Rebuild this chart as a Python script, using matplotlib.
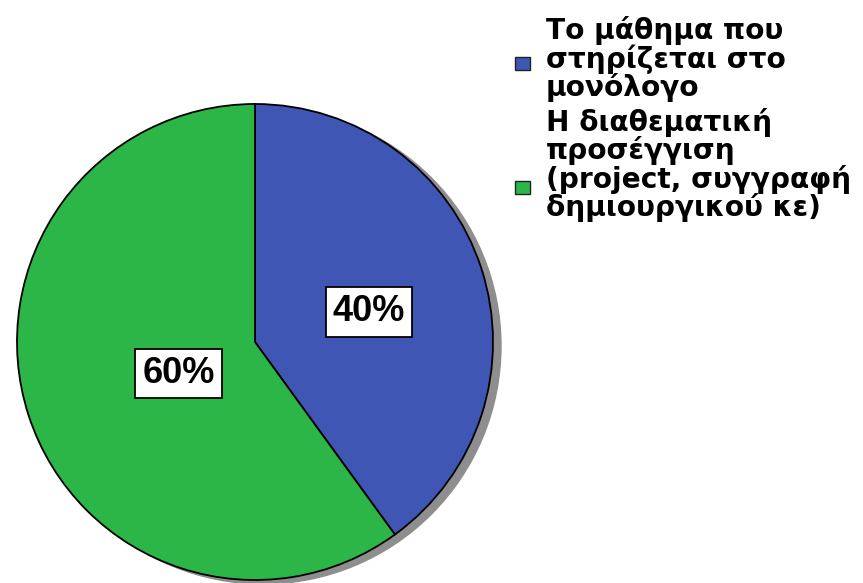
import matplotlib.pyplot as plt
import numpy as np
from matplotlib.patches import Circle, Rectangle

# answers in percent
labels = ["Το μάθημα που\nστηρίζεται στο\nμονόλογο",
          "Η διαθεματική\nπροσέγγιση\n(project, συγγραφή\nδημιουργικού κε)"]
values = [40, 60]
colors = ["#3f56b4", "#2db648"]

W, H = 863, 583
fig = plt.figure(figsize=(W / 100, H / 100), dpi=100)
ax = fig.add_axes([0, 0, 1, 1])

cx, cy, r = 255, H - 342, 238

# grey drop shadow behind the pie
ax.add_patch(Circle((cx + 8, cy - 4), r, color="#8e8e8e", zorder=1))

wedges, _ = ax.pie(values, colors=colors, startangle=90, counterclock=False,
                   center=(cx, cy), radius=r, frame=True,
                   wedgeprops=dict(edgecolor="black", linewidth=1.3, zorder=2))
ax.set_xlim(0, W)
ax.set_ylim(0, H)
ax.set_aspect("equal")
ax.axis("off")

# percentage boxes
dists = [0.49, 0.36]
shifts = [(3, -6), (5, -5)]
for w, v, d, (sx, sy) in zip(wedges, values, dists, shifts):
    ang = np.deg2rad((w.theta1 + w.theta2) / 2)
    x = cx + d * r * np.cos(ang) + sx
    y = cy + d * r * np.sin(ang) + sy
    ax.text(x, y, f"{v}%", ha="center", va="center", fontsize=26,
            fontweight="bold", family="Liberation Sans", zorder=5,
            bbox=dict(boxstyle="square,pad=0.2", fc="white", ec="black", lw=1.3))

# legend
tops = [H - 16, H - 108]
marks = [H - 63, H - 187]
for lab, col, top, my in zip(labels, colors, tops, marks):
    ax.text(546, top, lab, ha="left", va="top", fontsize=20.2,
            family="DejaVu Sans", fontweight="bold", linespacing=0.97,
            zorder=5)
    ax.add_patch(Rectangle((515, my - 6.5), 15, 13, fc=col, ec="#222222",
                           lw=1, zorder=5))

fig.savefig("out.png", dpi=100)
